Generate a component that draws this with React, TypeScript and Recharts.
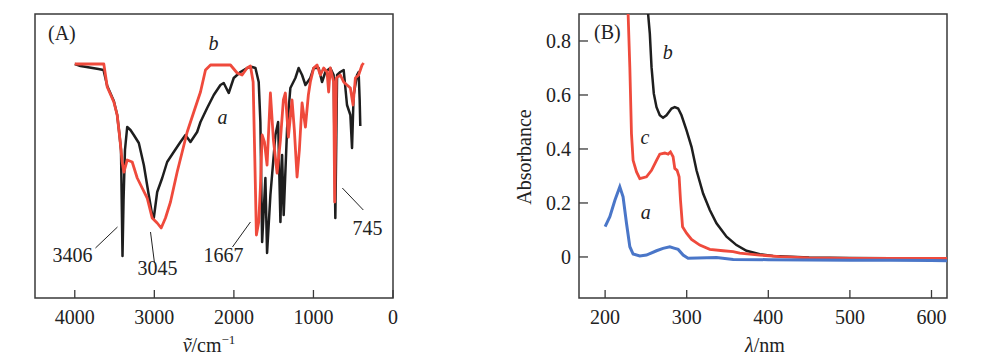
import React from 'react';
import { LineChart, Line, XAxis, YAxis, ReferenceArea, ReferenceLine, ReferenceDot } from 'recharts';

// ---------- Panel A: IR spectra (wavenumber cm^-1, transmittance a.u.) ----------
const irA_wn = [4000,3928,3852,3777,3702,3639,3592,3509,3467,3438,3419,3400,3387,3369,3341,3300,3258,3195,3132,3070,3027,3007,2964,2901,2839,2756,2672,2609,2546,2462,2420,2336,2253,2169,2128,2065,2002,1918,1834,1771,1729,1688,1667,1645,1604,1583,1541,1478,1444,1415,1394,1374,1331,1290,1227,1186,1143,1101,1039,997,934,892,850,788,746,725,703,662,620,578,536,515,495,452,432,419,411];
const irA_t = [234,232,231,230,229,228,212,197,183,163,148,42,98,148,171,168,163,155,133,103,83,80,106,120,136,146,156,163,156,166,176,190,203,213,215,205,220,226,230,231,230,216,176,56,120,45,103,163,176,76,143,83,170,210,220,230,223,213,220,230,230,216,226,230,223,80,223,226,228,193,183,150,203,223,226,198,172];

const irB_wn = [4000,3635,3592,3509,3467,3434,3404,3383,3341,3278,3215,3153,3090,3027,2964,2914,2860,2797,2713,2650,2587,2504,2420,2357,2294,2043,1959,1897,1834,1792,1758,1738,1717,1688,1667,1645,1616,1583,1541,1503,1457,1415,1378,1353,1315,1269,1240,1206,1177,1143,1101,1064,1039,997,955,913,872,829,809,788,746,733,712,662,620,578,536,502,473,432,389,369];
const irB_t = [234,234,211,196,183,160,136,126,138,136,120,110,100,80,75,70,80,96,126,146,166,186,206,228,233,233,225,223,230,232,216,143,63,76,110,163,156,133,205,158,125,158,198,205,161,198,168,121,148,195,171,203,216,230,233,223,230,226,206,230,216,96,220,223,216,213,210,193,220,223,233,235];

const irTicks = [4000, 3000, 2000, 1000, 0];

// ---------- Panel B: UV-vis spectra ----------
const uvA_nm = [200,205.8,212,218,222,226.2,230.3,234.3,242.5,250.7,263,271,279.3,285.4,289.5,295.6,301.7,336.5,357,400,450,500,550,600,620];
const uvA_abs = [0.112,0.149,0.21,0.26,0.223,0.125,0.038,0.011,0.004,0.007,0.023,0.032,0.038,0.032,0.028,0.007,-0.005,-0.002,-0.009,-0.01,-0.011,-0.012,-0.012,-0.013,-0.014];

const uvB_nm = [250,252.7,254.8,256.9,259.7,263,267,271,275.2,281.4,285.4,289.5,293.6,299.8,305.9,312,320.1,328.3,336.5,348.8,361,373.3,389.6,405.9,450,500,550,600,620];
const uvB_abs = [1.1,0.9,0.827,0.703,0.605,0.555,0.525,0.516,0.525,0.55,0.555,0.55,0.525,0.469,0.408,0.321,0.235,0.174,0.125,0.075,0.044,0.023,0.01,0.004,-0.002,-0.004,-0.005,-0.006,-0.006];

const uvC_nm = [226,228.2,230.3,232.3,234.3,238.5,242.5,250.7,256.9,263,267,273.2,277.2,280.1,283.3,285.4,288.2,290.7,292.4,294.9,299.8,305.9,316,328.3,344.6,356.9,365,389.6,414,450,500,550,600,620];
const uvC_abs = [1.2,0.9,0.703,0.457,0.358,0.315,0.29,0.297,0.321,0.358,0.381,0.385,0.381,0.389,0.371,0.328,0.321,0.297,0.21,0.112,0.088,0.065,0.044,0.028,0.023,0.02,0.014,0.007,0.001,-0.003,-0.005,-0.005,-0.005,-0.005];

const uvXTicks = [200, 300, 400, 500, 600];
const uvYTicks = [0, 0.2, 0.4, 0.6, 0.8];

const zip = (xs: number[], ys: number[]) => xs.map((x, i) => ({ x, y: ys[i] }));

const FONT = '"Liberation Serif", "Times New Roman", serif';
const FRAME = '#3a3a3a';
const BLACK = '#1e1e1e';
const RED = '#ef4a3c';
const BLUE = '#4a76c8';

const renderXTick = (props: any) => {
  const { x, y, payload } = props;
  return (
    <g>
      <line x1={x} x2={x} y1={y} y2={y - 8} stroke={FRAME} strokeWidth={1.3} />
      <text x={x} y={y + 25.5} textAnchor="middle" fontFamily={FONT} fontSize={20} fill="#222">
        {String(payload.value)}
      </text>
    </g>
  );
};

const renderYTick = (props: any) => {
  const { x, y, payload } = props;
  const v = Number(payload.value);
  const label = Math.abs(v) < 1e-9 ? '0' : v.toFixed(1);
  return (
    <g>
      <line x1={x} x2={x + 9} y1={y} y2={y} stroke={FRAME} strokeWidth={1.3} />
      <text x={x - 8} y={y + 7} textAnchor="end" fontFamily={FONT} fontSize={20} fill="#222">
        {label}
      </text>
    </g>
  );
};

const textShape = (txt: string, italic = false) => (p: any) => (
  <text
    x={p.cx}
    y={p.cy}
    textAnchor="middle"
    dominantBaseline="central"
    fontFamily={FONT}
    fontSize={20}
    fontStyle={italic ? 'italic' : 'normal'}
    fill="#222"
  >
    {txt}
  </text>
);

const irLabels = [
  { x: 4028, y: 43, t: '3406', i: false },
  { x: 2960, y: 30, t: '3045', i: false },
  { x: 2131, y: 43, t: '1667', i: false },
  { x: 322, y: 70, t: '745', i: false },
  { x: 2257, y: 255, t: 'b', i: true },
  { x: 2144, y: 181, t: 'a', i: true },
];
const irPointers = [
  [{ x: 3740, y: 50 }, { x: 3463, y: 71 }],
  [{ x: 2998, y: 35 }, { x: 3048, y: 66 }],
  [{ x: 2018, y: 51 }, { x: 1792, y: 76 }],
  [{ x: 373, y: 88 }, { x: 637, y: 110 }],
];
const uvLabels = [
  { x: 276.8, y: 0.758, t: 'b' },
  { x: 248.7, y: 0.443, t: 'c' },
  { x: 249.9, y: 0.166, t: 'a' },
];

export default function App() {
  return (
    <div style={{ position: 'absolute', left: 0, top: 0, width: 1000, height: 361, background: '#fff' }}>
      <div style={{ position: 'absolute', left: 0, top: 0 }}>
        <LineChart width={420} height={361} margin={{ top: 14, left: 5, right: 27, bottom: 23 }}>
          <XAxis
            dataKey="x"
            type="number"
            domain={[0, 4500]}
            reversed
            ticks={irTicks}
            height={40}
            tickSize={0}
            tickMargin={0}
            axisLine={false}
            tickLine={false}
            tick={renderXTick}
            allowDataOverflow
            interval={0}
          />
          <YAxis dataKey="y" type="number" domain={[0, 284]} width={30} tick={false} axisLine={false} tickLine={false} allowDataOverflow />
          <ReferenceArea x1={4500} x2={0} y1={0} y2={284} fill="none" stroke={FRAME} strokeWidth={1.5} ifOverflow="visible" />
          <Line data={zip(irA_wn, irA_t)} dataKey="y" stroke={BLACK} strokeWidth={2.5} dot={false} isAnimationActive={false} strokeLinejoin="round" />
          <Line data={zip(irB_wn, irB_t)} dataKey="y" stroke={RED} strokeWidth={2.8} dot={false} isAnimationActive={false} strokeLinejoin="round" />
          {irPointers.map((seg, i) => (
            <ReferenceLine key={'p' + i} segment={seg} stroke="#222" strokeWidth={1} ifOverflow="visible" />
          ))}
          {irLabels.map((l, i) => (
            <ReferenceDot key={'l' + i} x={l.x} y={l.y} r={0} ifOverflow="visible" shape={textShape(l.t, l.i)} />
          ))}
        </LineChart>
      </div>
      <div style={{ position: 'absolute', left: 500, top: 0 }}>
        <LineChart width={500} height={361} margin={{ top: 14, left: 19, right: 53, bottom: 23 }}>
          <XAxis
            dataKey="x"
            type="number"
            domain={[168, 619]}
            ticks={uvXTicks}
            height={40}
            tickSize={0}
            tickMargin={0}
            axisLine={false}
            tickLine={false}
            tick={renderXTick}
            allowDataOverflow
            interval={0}
          />
          <YAxis
            dataKey="y"
            type="number"
            domain={[-0.152, 0.9]}
            ticks={uvYTicks}
            width={60}
            tickSize={0}
            tickMargin={0}
            axisLine={false}
            tickLine={false}
            tick={renderYTick}
            allowDataOverflow
            interval={0}
          />
          <ReferenceArea x1={168} x2={619} y1={-0.152} y2={0.9} fill="none" stroke={FRAME} strokeWidth={1.5} ifOverflow="visible" />
          <Line data={zip(uvB_nm, uvB_abs)} dataKey="y" stroke={BLACK} strokeWidth={2.5} dot={false} isAnimationActive={false} />
          <Line data={zip(uvC_nm, uvC_abs)} dataKey="y" stroke={RED} strokeWidth={2.8} dot={false} isAnimationActive={false} />
          <Line data={zip(uvA_nm, uvA_abs)} dataKey="y" stroke={BLUE} strokeWidth={3} dot={false} isAnimationActive={false} />
          {uvLabels.map((l, i) => (
            <ReferenceDot key={'u' + i} x={l.x} y={l.y} r={0} ifOverflow="visible" shape={textShape(l.t, true)} />
          ))}
        </LineChart>
      </div>
      <svg width={1000} height={361} style={{ position: 'absolute', left: 0, top: 0, pointerEvents: 'none' }}>
        <text x={48} y={40} fontFamily={FONT} fontSize={20} fill="#222">(A)</text>
        <text x={594} y={39} fontFamily={FONT} fontSize={20} fill="#222">(B)</text>
        <text x={209} y={352} textAnchor="middle" fontFamily={FONT} fontSize={20} fill="#222">
          <tspan fontStyle="italic">ṽ</tspan>
          <tspan>/cm</tspan>
          <tspan dy={-8} fontSize={13}>−1</tspan>
        </text>
        <text x={765} y={352} textAnchor="middle" fontFamily={FONT} fontSize={20} fill="#222">
          <tspan fontStyle="italic">λ</tspan>
          <tspan>/nm</tspan>
        </text>
        <text
          x={0}
          y={0}
          transform="translate(531 157) rotate(-90)"
          textAnchor="middle"
          fontFamily={FONT}
          fontSize={20}
          fill="#222"
        >
          Absorbance
        </text>
      </svg>
    </div>
  );
}
